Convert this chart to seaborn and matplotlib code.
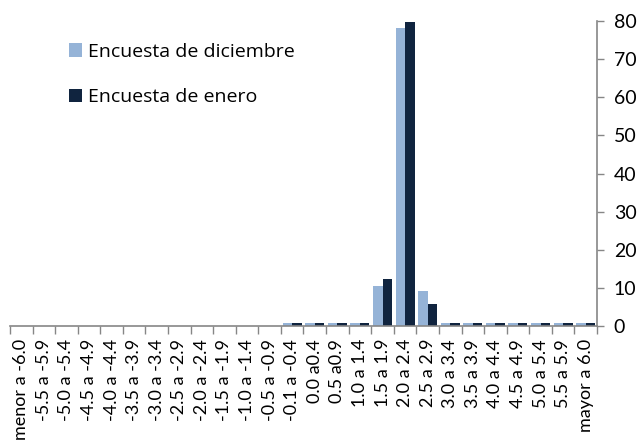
import matplotlib
matplotlib.use("Agg")
import matplotlib.pyplot as plt
import seaborn as sns
import pandas as pd
import numpy as np

categorias = [
    "menor a -6.0", "-5.5 a -5.9", "-5.0 a -5.4", "-4.5 a -4.9", "-4.0 a -4.4",
    "-3.5 a -3.9", "-3.0 a -3.4", "-2.5 a -2.9", "-2.0 a -2.4", "-1.5 a -1.9",
    "-1.0 a -1.4", "-0.5 a -0.9", "-0.1 a -0.4", "0.0 a0.4", "0.5 a0.9",
    "1.0 a 1.4", "1.5 a 1.9", "2.0 a 2.4", "2.5 a 2.9", "3.0 a 3.4",
    "3.5 a 3.9", "4.0 a 4.4", "4.5 a 4.9", "5.0 a 5.4", "5.5 a 5.9", "mayor a 6.0",
]
diciembre = [0, 0, 0, 0, 0, 0, 0, 0, 0, 0, 0, 0, 0.8, 0.8, 0.8, 0.8,
             10.5, 78.0, 9.3, 0.8, 0.8, 0.8, 0.8, 0.8, 0.8, 0.8]
enero = [0, 0, 0, 0, 0, 0, 0, 0, 0, 0, 0, 0, 0.8, 0.8, 0.8, 0.8,
         12.3, 79.8, 5.8, 0.8, 0.8, 0.8, 0.8, 0.8, 0.8, 0.8]
series = ["Encuesta de diciembre", "Encuesta de enero"]
colores = ["#95B3D7", "#10243F"]
y_ticks = [0, 10, 20, 30, 40, 50, 60, 70, 80]

df = pd.DataFrame({
    "rango": categorias * 2,
    "valor": diciembre + enero,
    "encuesta": [series[0]] * len(categorias) + [series[1]] * len(categorias),
})

sns.set_style("white")
plt.rcParams["font.family"] = ["Lato", "DejaVu Sans"]
plt.rcParams["text.color"] = "black"

fig = plt.figure(figsize=(6.44, 4.43), dpi=100)
ax = fig.add_axes([0.0155, 0.263, 0.9115, 0.69])

sns.barplot(data=df, x="rango", y="valor", hue="encuesta", order=categorias,
            hue_order=series, palette=colores, saturation=1, width=0.84, ax=ax,
            linewidth=0, errorbar=None)

ax.set_xlim(-0.5, len(categorias) - 0.5)
ax.set_ylim(0, 80)
ax.set_xlabel("")
ax.set_ylabel("")

# y axis on the right side
ax.yaxis.tick_right()
ax.set_yticks(y_ticks)
ax.tick_params(axis="y", which="major", direction="out", length=5, width=1,
               color="#868686", labelsize=14, pad=7, labelcolor="black")

# category labels at centers, tick marks at boundaries
ax.set_xticks(np.arange(len(categorias)))
ax.set_xticklabels(categorias, rotation=90, fontsize=13, color="black")
ax.set_xticks(np.arange(len(categorias) + 1) - 0.5, minor=True)
ax.tick_params(axis="x", which="major", length=0, pad=9)
ax.tick_params(axis="x", which="minor", direction="out", length=6, width=1,
               color="#868686", bottom=True)

for s in ["left", "top"]:
    ax.spines[s].set_visible(False)
for s in ["right", "bottom"]:
    ax.spines[s].set_color("#868686")
    ax.spines[s].set_linewidth(1.2)

leg = ax.legend(loc="upper left", bbox_to_anchor=(0.07, 0.985), frameon=False,
                prop={"family": ["Open Sans", "DejaVu Sans"], "size": 14},
                handlelength=0.7, handleheight=0.7,
                handletextpad=0.3, labelspacing=1.4, labelcolor="black")

fig.savefig("out.png", dpi=100)
